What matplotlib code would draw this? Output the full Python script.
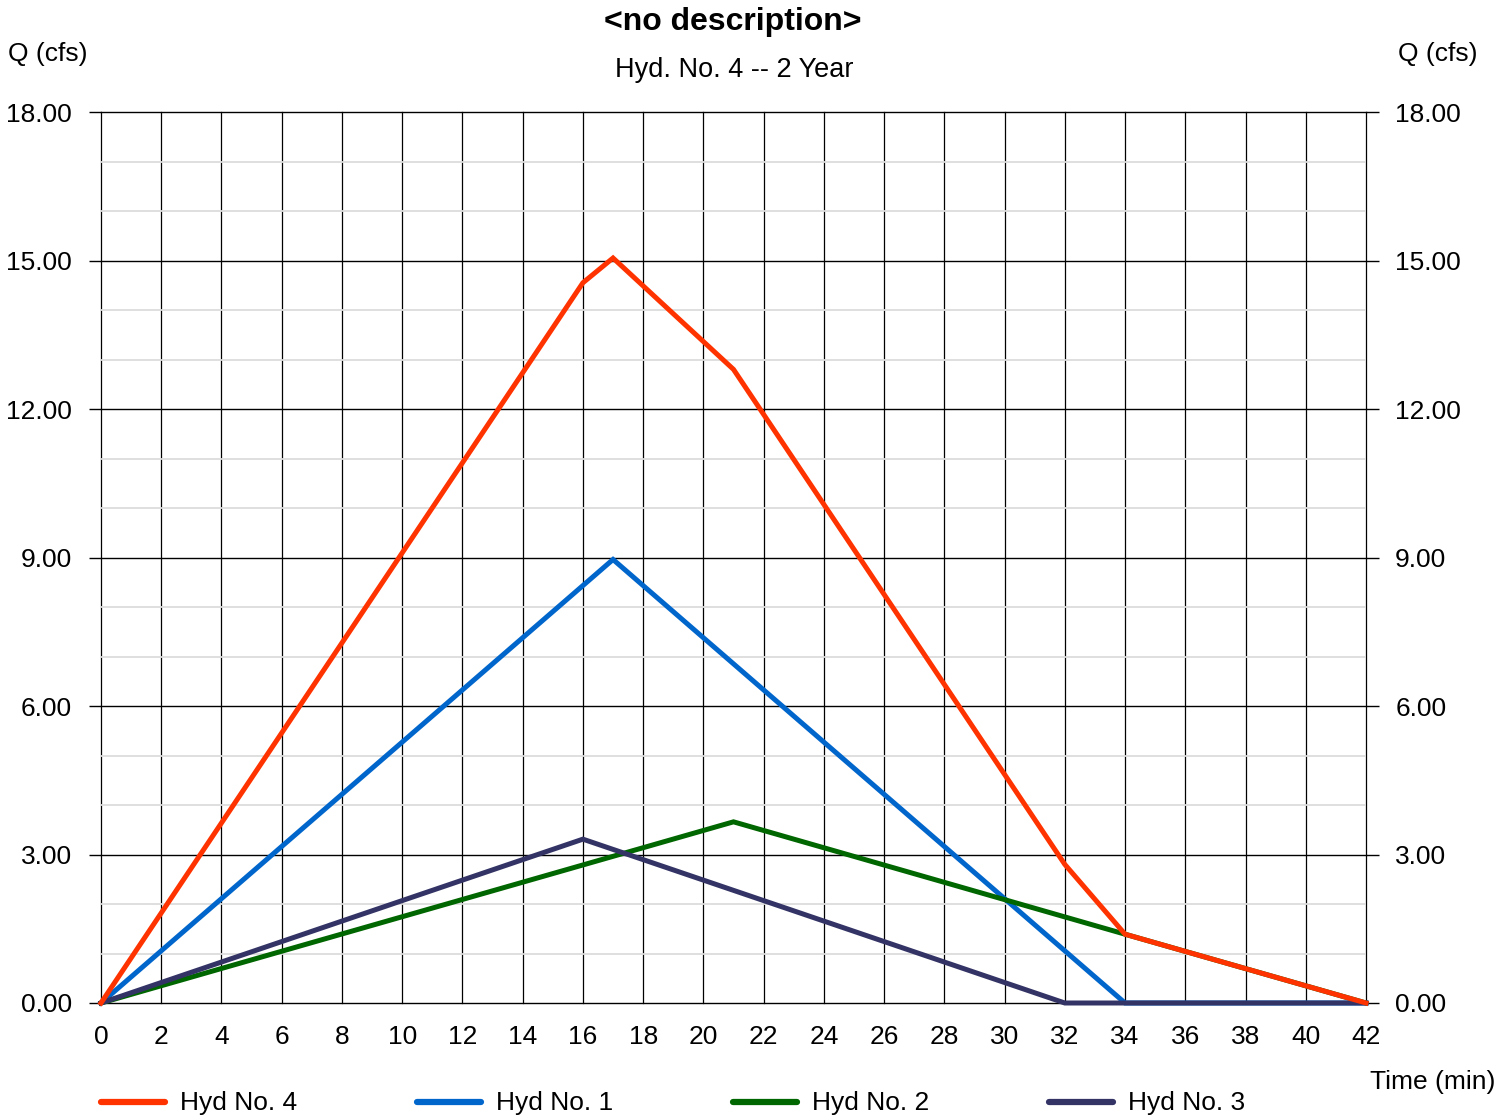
import matplotlib
matplotlib.use("Agg")
import matplotlib.pyplot as plt
from matplotlib.lines import Line2D

plt.rcParams['font.family'] = ['Liberation Sans', 'DejaVu Sans']

# Hydrograph breakpoints: time (min) and flow (cfs)
hyd4_t = [0, 16, 17, 21, 32, 34, 42]
hyd4_q = [0.00, 14.55, 15.05, 12.80, 2.80, 1.39, 0.00]
hyd1_t = [0, 17, 34, 42]
hyd1_q = [0.00, 8.96, 0.00, 0.00]
hyd2_t = [0, 21, 34, 42]
hyd2_q = [0.00, 3.66, 1.39, 0.00]
hyd3_t = [0, 16, 32, 42]
hyd3_q = [0.00, 3.31, 0.00, 0.00]

series_names = ["Hyd No. 4", "Hyd No. 1", "Hyd No. 2", "Hyd No. 3"]
series_colors = ["#ff3300", "#0066cc", "#006600", "#333366"]

x_ticks = list(range(0, 43, 2))
y_ticks = [0, 3, 6, 9, 12, 15, 18]
y_tick_labels = ["0.00", "3.00", "6.00", "9.00", "12.00", "15.00", "18.00"]

FS = 19
W, H = 1512, 1116
fig = plt.figure(figsize=(W / 100, H / 100), dpi=100)
ax = fig.add_axes([101 / W, 1 - 1003 / H, (1366 - 101) / W, (1003 - 112) / H])

ax.set_xlim(0, 42)
ax.set_ylim(0, 18)

# grid: light minor lines every 1 cfs, black major lines every 3 cfs and every 2 min
ax.set_yticks(range(0, 19), minor=True)
ax.set_yticks(y_ticks)
ax.set_yticklabels(y_tick_labels)
ax.set_xticks(x_ticks)
ax.set_xticklabels([str(v) for v in x_ticks])
ax.grid(which='minor', axis='y', color='#dcdcdc', lw=1.3, zorder=0)
ax.grid(which='major', axis='y', color='black', lw=1.0, zorder=1)
ax.grid(which='major', axis='x', color='black', lw=0.9, zorder=1)
for gl in ax.get_xgridlines() + ax.get_ygridlines():
    gl.set_clip_on(False)
for s in ax.spines.values():
    s.set_visible(False)
ax.set_axisbelow(True)

ax.tick_params(axis='y', which='major', left=True, right=True, labelleft=True,
               labelright=True, length=9, width=1.0, direction='out',
               labelsize=FS, pad=12)
ax.tick_params(axis='y', which='minor', left=False, right=False)
ax.tick_params(axis='x', length=0, labelsize=FS, pad=16)

lw = 3.6
ax.plot(hyd1_t, hyd1_q, color=series_colors[1], lw=lw, solid_joinstyle='miter', zorder=3)
ax.plot(hyd2_t, hyd2_q, color=series_colors[2], lw=lw, solid_joinstyle='miter', zorder=3)
ax.plot(hyd3_t, hyd3_q, color=series_colors[3], lw=lw, solid_joinstyle='miter', zorder=3)
ax.plot(hyd4_t, hyd4_q, color=series_colors[0], lw=lw, solid_joinstyle='miter', zorder=3)
for ln in ax.lines:
    ln.set_clip_on(False)

# titles and axis captions
fig.text(733 / W, 1 - 22 / H, "<no description>", ha='center', va='center',
         fontsize=23, fontweight='bold')
fig.text(734 / W, 1 - 70 / H, "Hyd. No. 4 -- 2 Year", ha='center', va='center', fontsize=19.5)
fig.text(8 / W, 1 - 54 / H, "Q (cfs)", ha='left', va='center', fontsize=FS)
fig.text(1477 / W, 1 - 54 / H, "Q (cfs)", ha='right', va='center', fontsize=FS)
fig.text(1495 / W, 1 - 1082 / H, "Time (min)", ha='right', va='center', fontsize=FS)

# legend row along the bottom
for i, (name, col) in enumerate(zip(series_names, series_colors)):
    x0 = 101 + 316 * i
    fig.add_artist(Line2D([x0 / W, (x0 + 64) / W], [1 - 1102 / H, 1 - 1102 / H],
                          color=col, lw=4.5, solid_capstyle='round',
                          transform=fig.transFigure))
    fig.text((x0 + 79) / W, 1 - 1103 / H, name, ha='left', va='center', fontsize=FS)

fig.savefig("out.png", dpi=100)
